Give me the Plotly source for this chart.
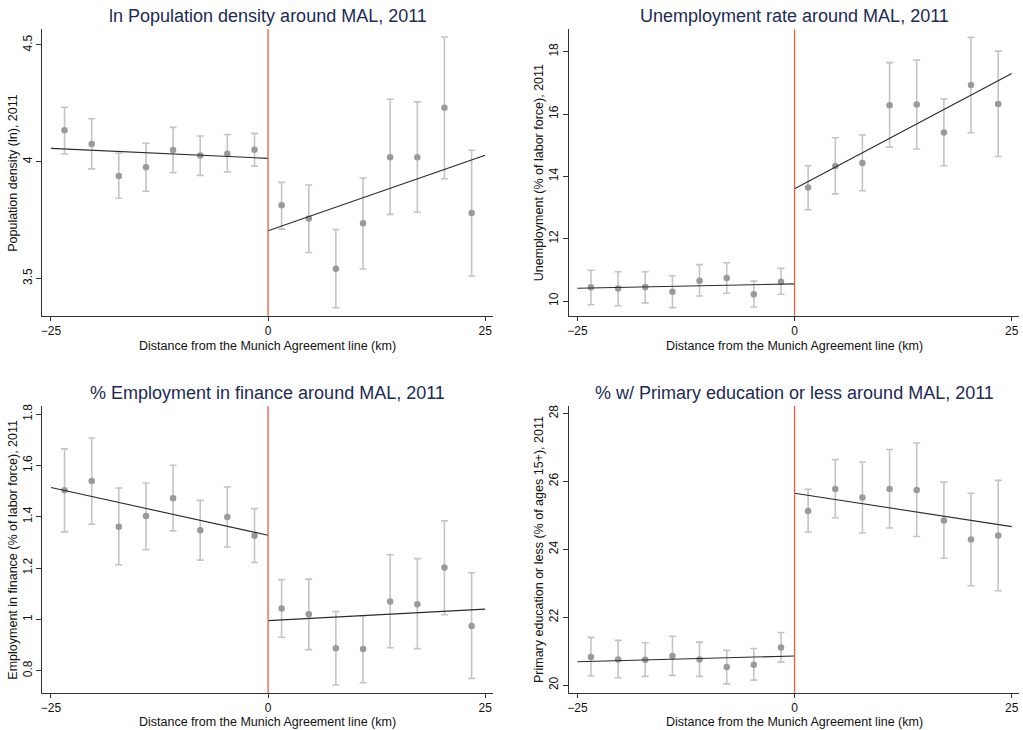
import plotly.graph_objects as go

# Bin centres (km from the Munich Agreement line)
x_left = [-23.44, -20.31, -17.19, -14.06, -10.94, -7.81, -4.69, -1.56]
x_right = [1.56, 4.69, 7.81, 10.94, 14.06, 17.19, 20.31, 23.44]

# Panel 1: ln population density
pop_left = [4.134, 4.076, 3.939, 3.976, 4.050, 4.026, 4.034, 4.051]
pop_left_hi = [4.233, 4.184, 4.036, 4.079, 4.147, 4.110, 4.116, 4.121]
pop_left_lo = [4.033, 3.969, 3.843, 3.873, 3.953, 3.941, 3.956, 3.981]
pop_right = [3.813, 3.756, 3.541, 3.736, 4.019, 4.019, 4.231, 3.780]
pop_right_hi = [3.911, 3.900, 3.709, 3.930, 4.267, 4.256, 4.534, 4.049]
pop_right_lo = [3.711, 3.611, 3.374, 3.540, 3.774, 3.783, 3.927, 3.510]
pop_fit_left = [4.057, 4.014]
pop_fit_right = [3.704, 4.027]

# Panel 2: unemployment rate
un_left = [10.44, 10.40, 10.45, 10.30, 10.65, 10.74, 10.22, 10.62]
un_left_hi = [10.99, 10.94, 10.94, 10.81, 11.17, 11.23, 10.64, 11.05]
un_left_lo = [9.88, 9.85, 9.94, 9.79, 10.16, 10.25, 9.81, 10.22]
un_right = [13.64, 14.33, 14.43, 16.28, 16.31, 15.41, 16.93, 16.32]
un_right_hi = [14.34, 15.24, 15.33, 17.65, 17.73, 16.49, 18.46, 18.02]
un_right_lo = [12.93, 13.44, 13.54, 14.94, 14.88, 14.34, 15.40, 14.64]
un_fit_left = [10.41, 10.55]
un_fit_right = [13.60, 17.30]

# Panel 3: employment in finance
fin_left = [1.503, 1.540, 1.361, 1.403, 1.472, 1.347, 1.399, 1.326]
fin_left_hi = [1.665, 1.707, 1.512, 1.532, 1.601, 1.464, 1.516, 1.432]
fin_left_lo = [1.341, 1.371, 1.213, 1.272, 1.345, 1.231, 1.282, 1.222]
fin_right = [1.042, 1.020, 0.887, 0.884, 1.070, 1.059, 1.202, 0.974]
fin_right_hi = [1.155, 1.157, 1.030, 1.014, 1.252, 1.237, 1.384, 1.182]
fin_right_lo = [0.930, 0.882, 0.744, 0.753, 0.889, 0.886, 1.018, 0.770]
fin_fit_left = [1.514, 1.328]
fin_fit_right = [0.995, 1.040]

# Panel 4: primary education or less
edu_left = [20.83, 20.76, 20.75, 20.86, 20.76, 20.54, 20.60, 21.11]
edu_left_hi = [21.41, 21.32, 21.25, 21.44, 21.27, 21.03, 21.08, 21.55]
edu_left_lo = [20.27, 20.22, 20.26, 20.29, 20.26, 20.04, 20.15, 20.68]
edu_right = [25.13, 25.78, 25.53, 25.78, 25.75, 24.85, 24.29, 24.41]
edu_right_hi = [25.77, 26.64, 26.57, 26.94, 27.13, 25.98, 25.65, 26.03]
edu_right_lo = [24.51, 24.93, 24.48, 24.63, 24.38, 23.74, 22.93, 22.78]
edu_fit_left = [20.69, 20.86]
edu_fit_right = [25.65, 24.67]

fit_x_left = [-25, 0]
fit_x_right = [0, 25]
x_ticks = [-25, 0, 25]

titles = [
    "ln Population density around MAL, 2011",
    "Unemployment rate around MAL, 2011",
    "% Employment in finance around MAL, 2011",
    "% w/ Primary education or less around MAL, 2011",
]
y_titles = [
    "Population density (ln), 2011",
    "Unemployment (% of labor force), 2011",
    "Employment in finance (% of labor force), 2011",
    "Primary education or less (% of ages 15+), 2011",
]
x_title = "Distance from the Munich Agreement line (km)"

y_ticks = [[3.5, 4, 4.5], [10, 12, 14, 16, 18], [0.8, 1, 1.2, 1.4, 1.6, 1.8], [20, 22, 24, 26, 28]]
y_ticktext = [["3.5", "4", "4.5"], ["10", "12", "14", "16", "18"],
              ["0.8", "1", "1.2", "1.4", "1.6", "1.8"], ["20", "22", "24", "26", "28"]]
y_ranges = [[3.34, 4.567], [9.53, 18.72], [0.714, 1.832], [19.78, 28.22]]
x_range = [-26.0, 25.87]

panels = [
    (pop_left, pop_left_hi, pop_left_lo, pop_right, pop_right_hi, pop_right_lo, pop_fit_left, pop_fit_right),
    (un_left, un_left_hi, un_left_lo, un_right, un_right_hi, un_right_lo, un_fit_left, un_fit_right),
    (fin_left, fin_left_hi, fin_left_lo, fin_right, fin_right_hi, fin_right_lo, fin_fit_left, fin_fit_right),
    (edu_left, edu_left_hi, edu_left_lo, edu_right, edu_right_hi, edu_right_lo, edu_fit_left, edu_fit_right),
]

W, H = 1023, 730
x_px = [[42.3, 492.7], [568.7, 1019.3]]
y_px = [[29.3, 315.7], [406.0, 692.7]]  # top, bottom in pixels
x_doms = [[a / W, b / W] for a, b in x_px]
y_doms = [[1 - b / H, 1 - t / H] for t, b in y_px]
x_title_gap = [30.0, 29.5]

FONT = "Liberation Sans, Arial, Helvetica, sans-serif"
MARKER = "#9a9a9a"
ERR = "#c4c4c4"
FIT = "#2a2a2a"
RED = "#ec5a48"
TITLE = "#1c2a55"
TXT = "#111111"

fig = go.Figure()
layout = dict(
    width=W, height=H, margin=dict(l=0, r=0, t=0, b=0, autoexpand=False),
    paper_bgcolor="white", plot_bgcolor="white", showlegend=False,
    font=dict(family=FONT, size=12, color="#222"),
)
shapes = []
annotations = []

for i, p in enumerate(panels):
    ly, lhi, llo, ry, rhi, rlo, fl, fr = p
    row, col = divmod(i, 2)
    ax = "" if i == 0 else str(i + 1)
    xa, ya = "x" + ax, "y" + ax
    for xs, ys, hi, lo in ((x_left, ly, lhi, llo), (x_right, ry, rhi, rlo)):
        fig.add_trace(go.Scatter(
            x=xs, y=ys, mode="markers", xaxis=xa, yaxis=ya,
            marker=dict(color=MARKER, size=6.5),
            error_y=dict(type="data", symmetric=False,
                         array=[h - v for h, v in zip(hi, ys)],
                         arrayminus=[v - l for l, v in zip(lo, ys)],
                         color=ERR, thickness=1.6, width=3.5),
        ))
    fig.add_trace(go.Scatter(x=fit_x_left, y=fl, mode="lines", xaxis=xa, yaxis=ya,
                             line=dict(color=FIT, width=1.1)))
    fig.add_trace(go.Scatter(x=fit_x_right, y=fr, mode="lines", xaxis=xa, yaxis=ya,
                             line=dict(color=FIT, width=1.1)))
    layout["xaxis" + ax] = dict(
        domain=x_doms[col], anchor=ya, range=x_range, tickvals=x_ticks,
        ticktext=["\u221225", "0", "25"], automargin=False,
        showline=True, linecolor="#333", linewidth=1, showgrid=False, zeroline=False,
        ticks="outside", ticklen=4, tickcolor="#333", tickfont=dict(size=12, color=TXT),
    )
    layout["yaxis" + ax] = dict(
        domain=y_doms[row], anchor=xa, range=y_ranges[i], tickvals=y_ticks[i],
        ticktext=y_ticktext[i], tickangle=-90, automargin=False,
        showline=True, linecolor="#333", linewidth=1, showgrid=False, zeroline=False,
        ticks="outside", ticklen=5, tickcolor="#333", tickfont=dict(size=12, color=TXT),
    )
    shapes.append(dict(type="line", xref=xa, yref=ya + " domain", x0=0, x1=0, y0=0, y1=1,
                       line=dict(color=RED, width=1.3)))
    left, right = x_px[col]
    top, bottom = y_px[row]
    # panel title
    annotations.append(dict(
        text=titles[i], xref="paper", yref="paper",
        x=(left + right) / 2 / W, y=1 - (top - 13.5) / H,
        xanchor="center", yanchor="middle", showarrow=False,
        font=dict(size=18, color=TITLE, family=FONT),
    ))
    # x-axis title
    annotations.append(dict(
        text=x_title, xref="paper", yref="paper",
        x=(left + right) / 2 / W, y=1 - (bottom + x_title_gap[row]) / H,
        xanchor="center", yanchor="middle", showarrow=False,
        font=dict(size=12.5, color=TXT, family=FONT),
    ))
    # y-axis title
    annotations.append(dict(
        text=y_titles[i], xref="paper", yref="paper", textangle=-90,
        x=(left - 29) / W, y=1 - (top + bottom) / 2 / H,
        xanchor="center", yanchor="middle", showarrow=False,
        font=dict(size=12.5, color=TXT, family=FONT),
    ))

layout["shapes"] = shapes
layout["annotations"] = annotations
fig.update_layout(**layout)
fig.write_html("out.html", config={"displayModeBar": False},
               post_script="document.body.style.margin='0';document.body.style.padding='0';")
